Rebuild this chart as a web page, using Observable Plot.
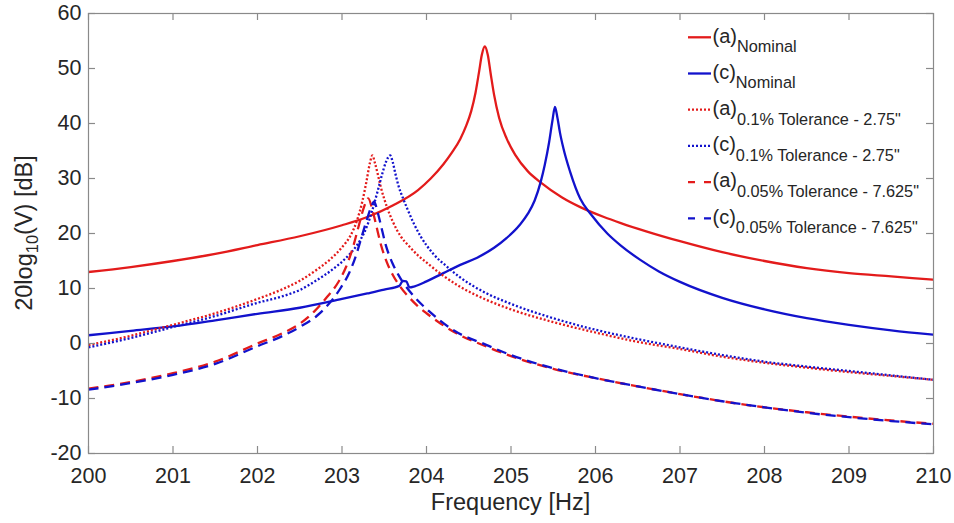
<!DOCTYPE html>
<html><head><meta charset="utf-8">
<script src="https://cdn.jsdelivr.net/npm/d3@7"></script>
<script src="https://cdn.jsdelivr.net/npm/@observablehq/plot@0.6"></script>
<style>
body{margin:0;background:#fff;}
#chart{width:954px;height:523px;}
</style></head><body><div id="chart"></div>
<script>
// ---- tick values ----
const xTicks = [200,201,202,203,204,205,206,207,208,209,210];
const yTicks = [-20,-10,0,10,20,30,40,50,60];

// ---- series: (a) Nominal ----
const aNomF  = [200,200.5,201,201.5,202,202.5,203,203.3,203.6,203.9,204.05,204.2,204.3,204.4,204.47,204.53,204.58,204.62,204.655,204.69,204.725,204.76,204.8,204.86,204.95,205.05,205.2,205.35,205.6,205.82,206.1,206.3,206.6,207,207.5,208,208.5,209,209.5,210];
const aNomDb = [13.0,13.9,15.0,16.3,17.9,19.5,21.5,23.0,25.1,27.9,30.0,32.6,34.7,37.2,39.6,42.3,45.6,49.2,52.5,54.0,52.5,49.0,45.2,41.0,37.2,34.3,31.3,29.3,26.6,24.8,23.0,21.9,20.4,18.6,16.6,15.0,13.7,12.8,12.2,11.6];

// ---- series: (c) Nominal ----
const cNomF  = [200,200.5,201,201.5,202,202.5,203,203.3,203.5,203.68,203.72,203.76,203.8,203.86,204,204.2,204.4,204.6,204.8,204.95,205.1,205.2,205.28,205.35,205.4,205.45,205.49,205.52,205.55,205.58,205.62,205.7,205.82,205.95,206.14,206.3,206.53,206.75,207,207.5,208,208.5,209,209.5,210];
const cNomDb = [1.5,2.3,3.1,4.2,5.4,6.5,8.1,9.1,9.8,10.5,11.4,11.3,10.2,10.4,11.3,12.8,14.3,15.6,17.4,19.2,21.5,23.6,26.0,29.3,32.5,36.5,40.5,43.0,41.0,38.3,35.5,31.2,26.3,23.4,20.0,17.8,15.2,13.1,11.2,8.3,6.2,4.6,3.4,2.4,1.6];

// ---- series: (a) 0.1% Tolerance - 2.75" ----
const a01F  = [200,200.5,201,201.5,202,202.3,202.5,202.7,202.86,203,203.1,203.18,203.24,203.29,203.33,203.36,203.39,203.42,203.46,203.53,203.6,203.69,203.8,203.9,204.01,204.2,204.4,204.7,205,205.5,206,206.5,207,207.5,208,208.5,209,209.5,210];
const a01Db = [-0.3,1.4,3.4,5.5,8.1,9.9,11.4,13.4,15.3,17.5,19.6,22.5,25.8,29.5,32.8,34.2,32.8,31.0,28.4,24.9,22.2,19.6,17.6,16.0,14.6,12.3,10.3,8.0,6.2,3.9,2.0,0.3,-1.0,-2.4,-3.5,-4.4,-5.2,-5.9,-6.6];

// ---- series: (c) 0.1% Tolerance - 2.75" ----
const c01F  = [200,200.5,201,201.5,202,202.3,202.51,202.7,202.9,203.05,203.15,203.22,203.3,203.36,203.42,203.47,203.52,203.57,203.6,203.63,203.67,203.72,203.77,203.85,203.93,204.08,204.24,204.4,204.7,205,205.5,206,206.5,207,207.5,208,208.5,209,209.5,210];
const c01Db = [-0.7,1.0,3.0,5.0,7.4,8.6,9.8,11.5,13.6,15.6,17.3,18.9,21.5,24.3,27.6,30.5,33.0,34.2,33.0,31.0,28.6,26.5,24.6,21.8,19.5,16.3,14.0,12.0,9.2,7.2,4.6,2.5,0.8,-0.7,-2.1,-3.3,-4.2,-5.0,-5.8,-6.6];

// ---- series: (a) 0.05% Tolerance - 7.625" ----
const a005F  = [200,200.5,201,201.5,202,202.3,202.5,202.67,202.82,202.95,203.05,203.13,203.2,203.26,203.31,203.36,203.4,203.46,203.53,203.6,203.69,203.8,203.89,204,204.17,204.36,204.7,205,205.5,206,206.5,207,207.5,208,208.5,209,209.5,210];
const a005Db = [-8.2,-7.0,-5.4,-3.3,0.0,1.9,3.6,5.8,8.4,11.0,14.0,17.5,21.5,24.8,26.4,24.3,21.8,18.0,14.8,12.5,10.3,8.3,6.9,5.5,3.6,1.8,-0.5,-2.3,-4.6,-6.3,-7.8,-9.2,-10.5,-11.6,-12.5,-13.3,-14.0,-14.6];

// ---- series: (c) 0.05% Tolerance - 7.625" ----
const c005F  = [200,200.5,201,201.5,202,202.3,202.5,202.7,202.85,202.98,203.09,203.17,203.24,203.3,203.34,203.38,203.42,203.46,203.52,203.6,203.69,203.85,204.05,204.32,204.7,205,205.5,206,206.5,207,207.5,208,208.5,209,209.5,210];
const c005Db = [-8.4,-7.2,-5.7,-3.7,-0.5,1.4,3.0,5.0,7.3,10.0,13.0,16.2,19.8,22.8,24.6,25.8,24.0,21.5,17.8,14.5,11.9,8.6,5.6,2.4,-0.2,-2.1,-4.5,-6.3,-7.8,-9.2,-10.5,-11.6,-12.6,-13.4,-14.1,-14.7];

// ---- legend texts ----
const legendMain = ["(a)","(c)","(a)","(c)","(a)","(c)"];
const legendSub  = ["Nominal","Nominal","0.1% Tolerance - 2.75\"","0.1% Tolerance - 2.75\"","0.05% Tolerance - 7.625\"","0.05% Tolerance - 7.625\""];

// ---- styling (kept separate from data) ----
const RED = "#e31b1b", BLUE = "#1212cc";
const series = [
  {f: aNomF, db: aNomDb, color: RED,  dash: null,   legendDash: null},
  {f: cNomF, db: cNomDb, color: BLUE, dash: null,   legendDash: null},
  {f: a01F,  db: a01Db,  color: RED,  dash: "2,2",  legendDash: "2,2"},
  {f: c01F,  db: c01Db,  color: BLUE, dash: "2,2",  legendDash: "2,2"},
  {f: a005F, db: a005Db, color: RED,  dash: "10,6", legendDash: "7,9"},
  {f: c005F, db: c005Db, color: BLUE, dash: "10,6", legendDash: "7,9"}
];
const AXIS = "#8a8a8a", TEXT = "#262626";
const FONT = "'Liberation Sans', Arial, Helvetica, sans-serif";
const W = 954, H = 523, ML = 88, MR = 21, MT = 13, MB = 70, TICK = 7;
const innerW = W - ML - MR, innerH = H - MT - MB;

const lineMarks = series.map(s => Plot.line(
  s.f.map((f, i) => ({f, db: s.db[i]})),
  {x: "f", y: "db", stroke: s.color, strokeWidth: 2.3, strokeDasharray: s.dash,
   strokeLinecap: "butt", curve: "monotone-x", clip: true}
));

const svg = Plot.plot({
  width: W, height: H,
  marginLeft: ML, marginRight: MR, marginTop: MT, marginBottom: MB,
  style: {fontFamily: FONT, background: "#fff"},
  x: {domain: [200, 210]},
  y: {domain: [-20, 60]},
  marks: [
    ...lineMarks,
    Plot.frame({stroke: AXIS, strokeWidth: 1.2}),
    // inward tick marks on all four sides (rules inset to tick length)
    Plot.ruleX(xTicks, {x: d => d, insetTop: innerH - TICK, stroke: AXIS, strokeWidth: 1.2}),
    Plot.ruleX(xTicks, {x: d => d, insetBottom: innerH - TICK, stroke: AXIS, strokeWidth: 1.2}),
    Plot.ruleY(yTicks, {y: d => d, insetRight: innerW - TICK, stroke: AXIS, strokeWidth: 1.2}),
    Plot.ruleY(yTicks, {y: d => d, insetLeft: innerW - TICK, stroke: AXIS, strokeWidth: 1.2}),
    // tick labels
    Plot.axisX({anchor: "bottom", ticks: xTicks, tickSize: 0, tickPadding: 14.5, fontSize: 21.5, fill: TEXT, tickFormat: d => String(d), label: null}),
    Plot.axisY({anchor: "left", ticks: yTicks, tickSize: 0, tickPadding: 7, fontSize: 21.5, fill: TEXT, tickFormat: d => String(d), label: null})
  ]
});
document.getElementById("chart").appendChild(svg);

const root = d3.select(svg);
// x label
root.append("text")
  .attr("x", 510.5).attr("y", 510)
  .attr("text-anchor", "middle")
  .attr("fill", TEXT).attr("font-family", FONT).attr("font-size", 23.5)
  .text("Frequency [Hz]");
// y label with subscript
const yl = root.append("text")
  .attr("transform", "translate(31.5,233) rotate(-90)")
  .attr("text-anchor", "middle")
  .attr("fill", TEXT).attr("font-family", FONT).attr("font-size", 23.5);
yl.append("tspan").text("20log");
yl.append("tspan").attr("font-size", 16.5).attr("dy", 6).text("10");
yl.append("tspan").attr("dy", -6).text("(V) [dB]");

// legend
const lg = root.append("g");
legendMain.forEach((m, i) => {
  const s = series[i];
  const cy = 37.3 + i * 36.2;
  lg.append("line")
    .attr("x1", 688).attr("x2", 711).attr("y1", cy).attr("y2", cy)
    .attr("stroke", s.color).attr("stroke-width", 2.3)
    .attr("stroke-dasharray", s.legendDash);
  const t = lg.append("text")
    .attr("x", 712.5).attr("y", cy + 5.3)
    .attr("text-anchor", "start")
    .attr("fill", TEXT).attr("font-family", FONT);
  t.append("tspan").attr("font-size", 20).text(m);
  t.append("tspan").attr("font-size", 16.3).attr("dy", 9.5).text(legendSub[i]);
});
</script>
</body></html>
